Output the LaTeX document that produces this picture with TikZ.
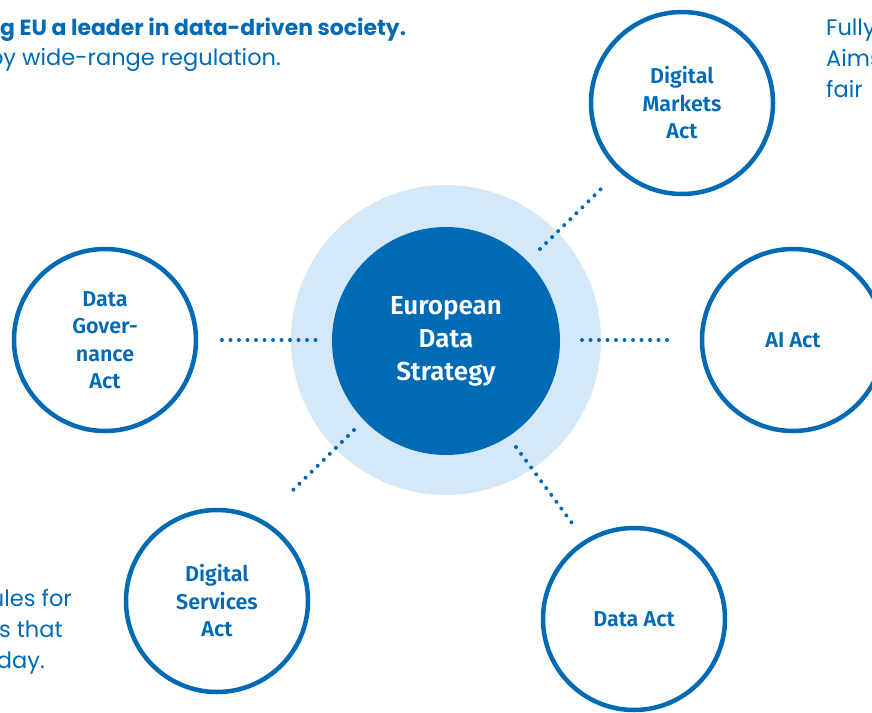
\documentclass[tikz,border=0pt]{standalone}
\usepackage{fontspec}
\setmainfont{Fira Sans}[BoldFont={Fira Sans SemiBold}]
\newfontfamily\geofont{Poppins}
\definecolor{eublue}{RGB}{0,106,180}
\definecolor{eulight}{RGB}{213,232,248}
\begin{document}
\begin{tikzpicture}[x=1pt,y=-1pt,
  sat/.style={circle,draw=eublue,line width=4.5pt,fill=white,minimum size=182pt,inner sep=0pt,
     text=eublue,font=\fontsize{21.5}{27.5}\selectfont\bfseries,align=center},
  dotline/.style={eublue,line width=4pt,line cap=round,dash pattern=on 0pt off 8.5pt},
  side/.style={text=eublue,font=\geofont\fontsize{22.5}{31}\selectfont,inner sep=0pt}]
\useasboundingbox (0,0) rectangle (872,712);
\clip (0,0) rectangle (872,712);
\fill[eulight] (446,340) circle (155);
\node[circle,fill=eublue,minimum size=228pt,inner sep=0pt,text=white,align=center,
  font=\fontsize{26}{33}\selectfont\bfseries] (core) at (446,341) {European\\Data\\Strategy};
\node[sat] (dma) at (682,103) {Digital\\Markets\\Act};
\node[sat] (ai) at (793,340) {AI Act};
\node[sat] (dga) at (105,340) {Data\\Gover-\\nance\\Act};
\node[sat] (dsa) at (217,601) {Digital\\Services\\Act};
\node[sat] (da) at (634,619) {Data Act};
\coordinate (l1) at (222,340); \coordinate (l2) at (316,340);
\coordinate (r1) at (582,340); \coordinate (r2) at (673,340);
\coordinate (tr1) at (540,249); \coordinate (tr2) at (606,184);
\coordinate (bl1) at (354,430); \coordinate (bl2) at (288,495);
\coordinate (br1) at (516,447); \coordinate (br2) at (572,523);
\draw[dotline] (l1) -- (l2);
\draw[dotline] (r1) -- (r2);
\draw[dotline] (tr1) -- (tr2);
\draw[dotline] (bl1) -- (bl2);
\draw[dotline] (br1) -- (br2);
\node[side,anchor=base west,font=\geofont\fontsize{21.9}{31}\selectfont\bfseries] (h1) at (0,35) {g EU a leader in data-driven society.};
\node[side,anchor=base east] (h2) at (281,65) {by wide-range regulation.};
\node[side,anchor=base west] (t1) at (826,35) {Fully};
\node[side,anchor=base west] (t2) at (826,66) {Aims};
\node[side,anchor=base west] (t3) at (826,97) {fair};
\node[side,anchor=base east] (b1) at (72,606) {ules for};
\node[side,anchor=base east] (b2) at (63,637) {s that};
\node[side,anchor=base east] (b3) at (45,668) {day.};
\end{tikzpicture}
\end{document}
